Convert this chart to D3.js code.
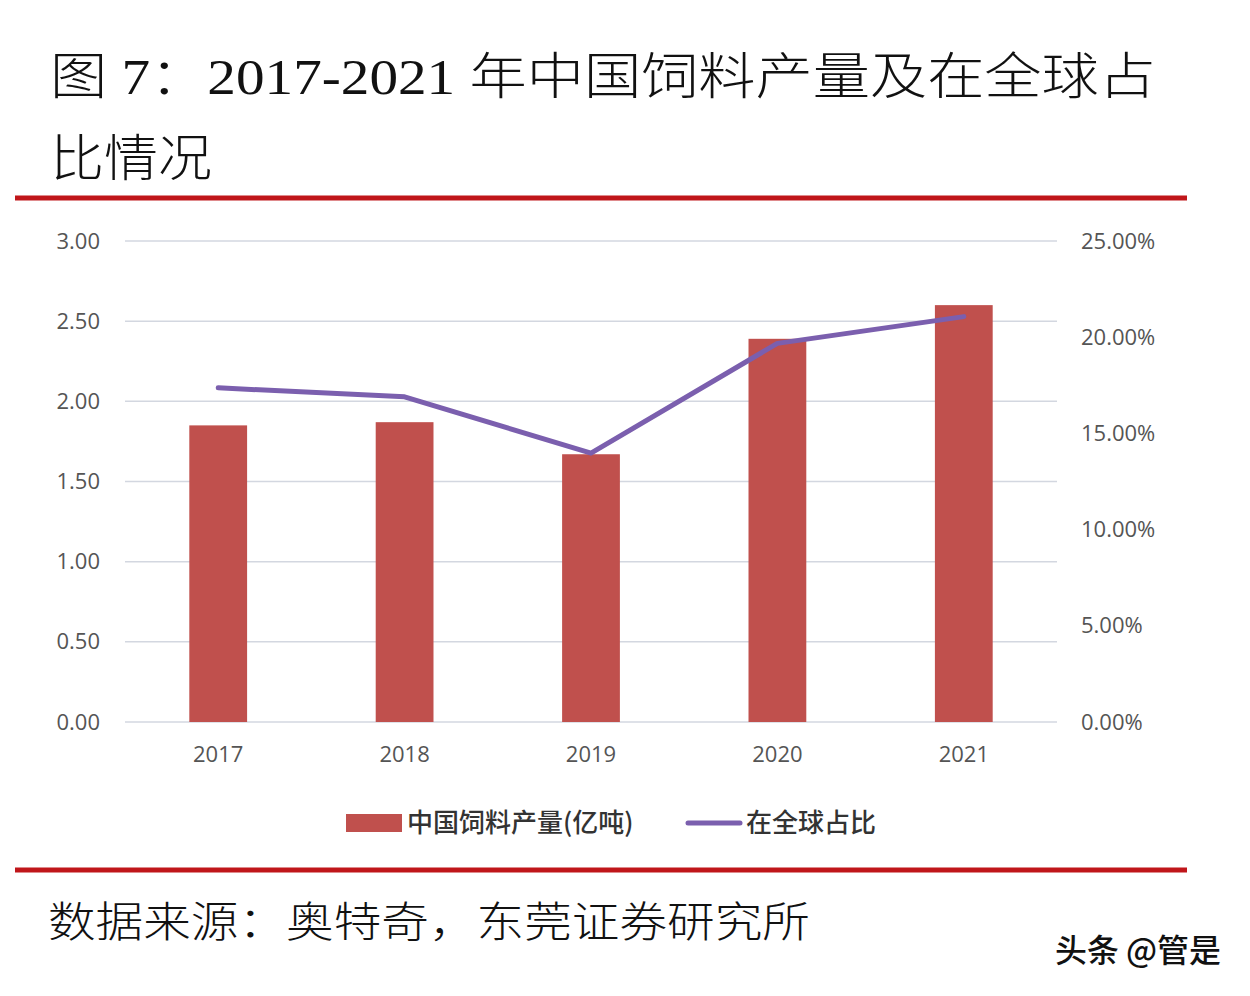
<!DOCTYPE html>
<html>
<head>
<meta charset="utf-8">
<script src="https://cdn.jsdelivr.net/npm/d3@7"></script>
<style>
  body { margin: 0; background: #fff; }
  svg { display: block; }
</style>
</head>
<body>
<div id="chart"></div>
<script>
var years = ["2017", "2018", "2019", "2020", "2021"];
var output = [1.85, 1.87, 1.67, 2.39, 2.60];        // 中国饲料产量(亿吨)
var share = [0.1737, 0.169, 0.1397, 0.1968, 0.2107]; // 在全球占比
var leftTicks = [0, 0.5, 1, 1.5, 2, 2.5, 3];
var rightTicks = [0, 0.05, 0.10, 0.15, 0.20, 0.25];

var W = 1250, H = 996;
var svg = d3.select("#chart").append("svg")
  .attr("width", W)
  .attr("height", H);

var serif = "'Liberation Serif', 'DejaVu Serif', 'Noto Sans CJK SC', serif";
var sans = "'Noto Sans CJK SC', 'Liberation Sans', sans-serif";

// title
svg.append("text")
  .attr("x", 50).attr("y", 94)
  .attr("font-family", serif)
  .attr("font-size", 50)
  .attr("font-weight", 300)
  .attr("fill", "#111")
  .attr("textLength", 1106)
  .attr("lengthAdjust", "spacingAndGlyphs")
  .text("图 7：2017-2021 年中国饲料产量及在全球占");
svg.append("text")
  .attr("x", 50).attr("y", 176)
  .attr("font-family", serif)
  .attr("font-size", 50)
  .attr("font-weight", 300)
  .attr("fill", "#111")
  .attr("textLength", 162)
  .attr("lengthAdjust", "spacingAndGlyphs")
  .text("比情况");

// red rules
[198, 870].forEach(function(y){
  svg.append("line")
    .attr("x1", 15).attr("x2", 1187)
    .attr("y1", y).attr("y2", y)
    .attr("stroke", "#c0161a")
    .attr("stroke-width", 5);
});

var x = d3.scaleBand().domain(years).range([125, 1057]).paddingInner(0.69).paddingOuter(0.345);
var y = d3.scaleLinear().domain([0, 3]).range([722, 241]);
var y2 = d3.scaleLinear().domain([0, 0.25]).range([722, 241]);

// grid
svg.append("g").selectAll("line")
  .data(leftTicks)
  .enter().append("line")
  .attr("x1", 125).attr("x2", 1057)
  .attr("y1", function(d){ return y(d); })
  .attr("y2", function(d){ return y(d); })
  .attr("stroke", "#d3d7e0")
  .attr("stroke-width", 1.5);

// left axis
var yAxis = svg.append("g")
  .attr("transform", "translate(100,0)")
  .call(d3.axisLeft(y).tickValues(leftTicks).tickFormat(d3.format(".2f")).tickSize(0).tickPadding(0));
yAxis.select(".domain").remove();
yAxis.selectAll("text")
  .attr("font-family", "'Open Sans', 'Liberation Sans', sans-serif")
  .attr("font-size", 22)
  .attr("fill", "#555");

// right axis
var y2Axis = svg.append("g")
  .attr("transform", "translate(1081,0)")
  .call(d3.axisRight(y2).tickValues(rightTicks).tickFormat(d3.format(".2%")).tickSize(0).tickPadding(0));
y2Axis.select(".domain").remove();
y2Axis.selectAll("text")
  .attr("font-family", "'Open Sans', 'Liberation Sans', sans-serif")
  .attr("font-size", 22)
  .attr("fill", "#555");

// bottom axis
var xAxis = svg.append("g")
  .attr("transform", "translate(0,722)")
  .call(d3.axisBottom(x).tickSize(0).tickPadding(24));
xAxis.select(".domain").remove();
xAxis.selectAll("text")
  .attr("font-family", "'Open Sans', 'Liberation Sans', sans-serif")
  .attr("font-size", 22)
  .attr("fill", "#555");

// bars
svg.append("g").selectAll("rect")
  .data(output)
  .enter().append("rect")
  .attr("x", function(d, i){ return x(years[i]); })
  .attr("width", x.bandwidth())
  .attr("y", function(d){ return y(d); })
  .attr("height", function(d){ return y(0) - y(d); })
  .attr("fill", "#c0504d");

// line
var line = d3.line()
  .x(function(d, i){ return x(years[i]) + x.bandwidth() / 2; })
  .y(function(d){ return y2(d); });
svg.append("path")
  .datum(share)
  .attr("d", line)
  .attr("fill", "none")
  .attr("stroke", "#7b5fae")
  .attr("stroke-width", 5)
  .attr("stroke-linecap", "round")
  .attr("stroke-linejoin", "round");

// legend
var lg = svg.append("g");
lg.append("rect")
  .attr("x", 346).attr("y", 814)
  .attr("width", 56).attr("height", 18)
  .attr("fill", "#c0504d");
lg.append("text")
  .attr("x", 407).attr("y", 832)
  .attr("font-family", sans)
  .attr("font-size", 26)
  .attr("font-weight", 500)
  .attr("fill", "#333")
  .text("中国饲料产量(亿吨)");
lg.append("line")
  .attr("x1", 688).attr("x2", 740)
  .attr("y1", 823).attr("y2", 823)
  .attr("stroke", "#7b5fae")
  .attr("stroke-width", 5)
  .attr("stroke-linecap", "round");
lg.append("text")
  .attr("x", 746).attr("y", 832)
  .attr("font-family", sans)
  .attr("font-size", 26)
  .attr("font-weight", 500)
  .attr("fill", "#333")
  .text("在全球占比");

// source
svg.append("text")
  .attr("x", 48).attr("y", 937)
  .attr("font-family", serif)
  .attr("font-size", 42)
  .attr("font-weight", 300)
  .attr("fill", "#111")
  .attr("textLength", 762)
  .attr("lengthAdjust", "spacingAndGlyphs")
  .text("数据来源：奥特奇，东莞证券研究所");

// watermark
svg.append("text")
  .attr("x", 1055).attr("y", 962)
  .attr("font-family", sans)
  .attr("font-size", 32)
  .attr("font-weight", 500)
  .attr("fill", "#111")
  .attr("textLength", 166)
  .attr("lengthAdjust", "spacingAndGlyphs")
  .text("头条 @管是");
</script>
</body>
</html>
